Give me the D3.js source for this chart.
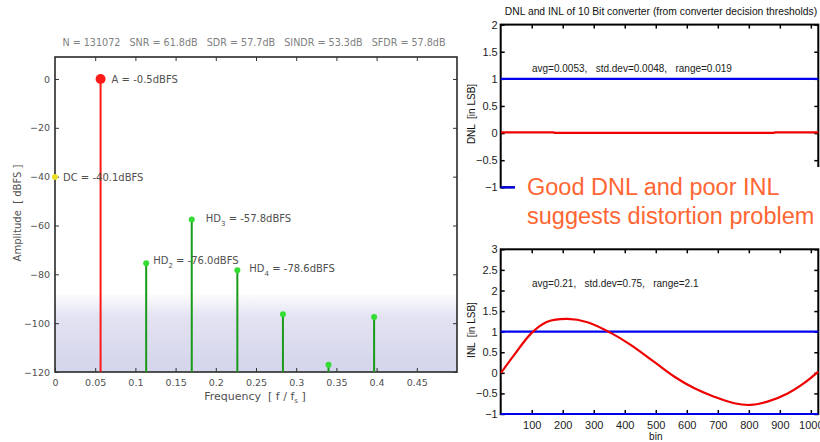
<!DOCTYPE html>
<html>
<head>
<meta charset="utf-8">
<script src="https://cdn.jsdelivr.net/npm/d3@7"></script>
<style>
  body { margin: 0; background: #fff; }
  svg { display: block; font-family: "Liberation Sans", Arial, sans-serif; }
</style>
</head>
<body>
<svg id="chart" width="820" height="442"></svg>
<script>
// ---------------- data ----------------
// Left: FFT spectrum
const specTitle = "N = 131072   SNR = 61.8dB   SDR = 57.7dB   SINDR = 53.3dB   SFDR = 57.8dB";
const harmFreq = [0.0567, 0.1134, 0.1701, 0.2268, 0.2835, 0.3402, 0.3969];
const harmAmp  = [0, -75.5, -57.5, -78.3, -96.3, -117, -97.5];
const harmName = ["A", "HD2", "HD3", "HD4", "HD5", "HD6", "HD7"];
const dcFreq = [0];
const dcAmp  = [-40.1];
const noiseTop = -88;
const specXTicks = [0, 0.05, 0.1, 0.15, 0.2, 0.25, 0.3, 0.35, 0.4, 0.45];
const specYTicks = [0, -20, -40, -60, -80, -100, -120];

// Right top: DNL
const dnlBins = [1, 170, 175, 880, 885, 1024];
const dnlVals = [0.012, 0.012, 0.003, 0.003, 0.012, 0.012];
const dnlYTicks = [-1, -0.5, 0, 0.5, 1, 1.5, 2];
// Right bottom: INL
const inlBins = [1, 43, 100, 150, 215, 280, 355, 419, 494, 559, 623, 688, 753, 806, 860, 925, 978, 1024];
const inlVals = [0, 0.43, 0.97, 1.24, 1.31, 1.23, 0.97, 0.68, 0.27, -0.09, -0.37, -0.58, -0.74, -0.78, -0.7, -0.5, -0.25, 0.03];
const inlYTicks = [-1, -0.5, 0, 0.5, 1, 1.5, 2, 2.5, 3];
const binTicks = [100, 200, 300, 400, 500, 600, 700, 800, 900, 1000];
const refLines = [1, -1];

const svg = d3.select("#chart");
const leftFont = "DejaVu Sans, Verdana, sans-serif";

// ---------------- left spectrum ----------------
const L = {x0: 55, x1: 457, y0: 57, y1: 372};
const xs = d3.scaleLinear().domain([0, 0.5]).range([L.x0, L.x1]);
const ys = d3.scaleLinear().domain([-120, 9]).range([L.y1, L.y0]);
const gray = "#505050";

// noise floor band
const defs = svg.append("defs");
const grad = defs.append("linearGradient").attr("id", "noiseGrad").attr("x1", 0).attr("y1", 0).attr("x2", 0).attr("y2", 1);
grad.append("stop").attr("offset", "0%").attr("stop-color", "#d6d6ec").attr("stop-opacity", 0.05);
grad.append("stop").attr("offset", "30%").attr("stop-color", "#d6d6ec").attr("stop-opacity", 0.7);
grad.append("stop").attr("offset", "100%").attr("stop-color", "#d2d2ea").attr("stop-opacity", 0.95);
svg.append("rect")
  .attr("x", L.x0).attr("y", ys(noiseTop))
  .attr("width", L.x1 - L.x0).attr("height", ys(-120) - ys(noiseTop))
  .attr("fill", "url(#noiseGrad)");

// frame
svg.append("rect").attr("x", L.x0).attr("y", L.y0).attr("width", L.x1 - L.x0).attr("height", L.y1 - L.y0)
  .attr("fill", "none").attr("stroke", "#2a2a2a").attr("stroke-width", 1.6);

// axes
const gxL = svg.append("g").attr("transform", `translate(0,${L.y1})`)
  .call(d3.axisBottom(xs).tickValues(specXTicks).tickSizeInner(-4).tickSizeOuter(0).tickPadding(7).tickFormat(d3.format("")));
const gxLt = svg.append("g").attr("transform", `translate(0,${L.y0})`)
  .call(d3.axisTop(xs).tickValues(specXTicks.slice(1)).tickSizeInner(-4).tickSizeOuter(0).tickFormat(""));
const gyL = svg.append("g").attr("transform", `translate(${L.x0},0)`)
  .call(d3.axisLeft(ys).tickValues(specYTicks).tickSizeInner(-4).tickSizeOuter(0).tickPadding(5));
const gyLr = svg.append("g").attr("transform", `translate(${L.x1},0)`)
  .call(d3.axisRight(ys).tickValues(specYTicks).tickSizeInner(-4).tickSizeOuter(0).tickFormat(""));
[gxL, gxLt, gyL, gyLr].forEach(g => {
  g.select(".domain").remove();
  g.selectAll(".tick line").attr("stroke", "#333");
  g.selectAll("text").attr("fill", gray).attr("font-size", 9.5).attr("font-family", leftFont);
});

// title & axis labels
svg.append("text").attr("x", 254).attr("y", 46).attr("text-anchor", "middle").attr("font-family", leftFont)
  .attr("font-size", 9.6).attr("fill", "#808080").attr("xml:space", "preserve").text(specTitle);
svg.append("text").attr("transform", `translate(21,213) rotate(-90)`).attr("font-family", leftFont)
  .attr("text-anchor", "middle").attr("font-size", 10).attr("fill", gray).attr("xml:space", "preserve")
  .text("Amplitude  [ dBFS ]");
const xl = svg.append("text").attr("x", 255).attr("y", 400).attr("text-anchor", "middle").attr("font-family", leftFont)
  .attr("font-size", 11).attr("fill", gray).attr("xml:space", "preserve");
xl.append("tspan").text("Frequency  [ f / f");
xl.append("tspan").attr("font-size", 7).attr("dy", 3).text("s");
xl.append("tspan").attr("dy", -3).text(" ]");

// stems
const harm = harmFreq.map((f, i) => ({f, a: harmAmp[i], n: harmName[i]}));
svg.append("g").selectAll("line").data(harm).join("line")
  .attr("x1", d => xs(d.f)).attr("x2", d => xs(d.f))
  .attr("y1", d => ys(d.a)).attr("y2", ys(-120))
  .attr("stroke", (d, i) => i === 0 ? "#ff1a1a" : "#1a9a1a").attr("stroke-width", 2);
svg.append("g").selectAll("circle").data(harm).join("circle")
  .attr("cx", d => xs(d.f)).attr("cy", d => ys(d.a))
  .attr("r", (d, i) => i === 0 ? 5 : 3)
  .attr("fill", (d, i) => i === 0 ? "#ff1a1a" : "#33dd33");
svg.append("g").selectAll("circle").data(dcFreq.map((f, i) => ({f, a: dcAmp[i]}))).join("circle")
  .attr("cx", d => xs(d.f)).attr("cy", d => ys(d.a)).attr("r", 3).attr("fill", "#e8e020");

// stem labels
function subLabel(x, y, main, sub, rest) {
  const t = svg.append("text").attr("x", x).attr("y", y).attr("font-size", 10).attr("font-family", leftFont)
    .attr("fill", gray).attr("xml:space", "preserve");
  t.append("tspan").text(main);
  if (sub) {
    t.append("tspan").attr("font-size", 7).attr("dy", 4).text(sub);
    t.append("tspan").attr("dy", -4).text(rest);
  }
  return t;
}
subLabel(xs(harmFreq[0]) + 11, ys(harmAmp[0]) + 4, `A = -0.5dBFS`);
subLabel(xs(dcFreq[0]) + 8, ys(dcAmp[0]) + 4, `DC = -40.1dBFS`);
subLabel(xs(harmFreq[2]) + 14, ys(harmAmp[2]) + 3, "HD", "3", " = -57.8dBFS");
subLabel(xs(harmFreq[1]) + 7, ys(harmAmp[1]) + 1, "HD", "2", " = -76.0dBFS");
subLabel(xs(harmFreq[3]) + 12, ys(harmAmp[3]) + 2, "HD", "4", " = -78.6dBFS");

// ---------------- right charts ----------------
const R = {x0: 500.7, x1: 818.3};
const xb = d3.scaleLinear().domain([0, 1024]).range([R.x0, R.x1]);
const yd = d3.scaleLinear().domain([-1, 2]).range([187.3, 24.6]);
const yi = d3.scaleLinear().domain([-1, 3]).range([414, 249.3]);

function frame(y, y0, y1, yTicks, showBottomLabels) {
  const gB = svg.append("g").attr("transform", `translate(0,${y1})`)
    .call(d3.axisBottom(xb).tickValues(binTicks).tickSizeInner(-4).tickSizeOuter(0).tickPadding(7).tickFormat(d3.format("d")));
  const gT = svg.append("g").attr("transform", `translate(0,${y0})`)
    .call(d3.axisTop(xb).tickValues(binTicks).tickSizeInner(-4).tickSizeOuter(0).tickFormat(""));
  const gL = svg.append("g").attr("transform", `translate(${R.x0},0)`)
    .call(d3.axisLeft(y).tickValues(yTicks).tickSizeInner(-4).tickSizeOuter(0).tickPadding(3).tickFormat(d3.format("")));
  const gR = svg.append("g").attr("transform", `translate(${R.x1},0)`)
    .call(d3.axisRight(y).tickValues(yTicks).tickSizeInner(-4).tickSizeOuter(0).tickFormat(""));
  [gB, gT, gL, gR].forEach(g => {
    g.select(".domain").remove();
    g.selectAll(".tick line").attr("stroke", "#000").attr("stroke-width", 1.5);
    g.selectAll("text").attr("fill", "#222").attr("font-size", 11).attr("font-family", "Liberation Sans, Arial, sans-serif");
  });
  if (!showBottomLabels) gB.selectAll("text").remove();
  svg.append("rect").attr("x", R.x0).attr("y", y0).attr("width", R.x1 - R.x0).attr("height", y1 - y0)
    .attr("fill", "none").attr("stroke", "#000").attr("stroke-width", 2);
}

// top (DNL)
frame(yd, yd(2), yd(-1), dnlYTicks, false);
svg.append("g").selectAll("line").data(refLines).join("line")
  .attr("x1", R.x0).attr("x2", R.x1).attr("y1", d => yd(d)).attr("y2", d => yd(d))
  .attr("stroke", "#0000ee").attr("stroke-width", 2.2);
svg.append("path").datum(dnlBins.map((b, i) => [b, dnlVals[i]]))
  .attr("d", d3.line().x(d => xb(d[0])).y(d => yd(d[1])))
  .attr("fill", "none").attr("stroke", "#ee0000").attr("stroke-width", 2.2);
svg.append("text").attr("x", 532).attr("y", 72).attr("font-size", 10).attr("fill", "#222").attr("xml:space", "preserve")
  .text("avg=0.0053,   std.dev=0.0048,   range=0.019");
svg.append("text").attr("x", 661).attr("y", 15).attr("text-anchor", "middle").attr("font-size", 10.3).attr("fill", "#111")
  .text("DNL and INL of 10 Bit converter (from converter decision thresholds)");
svg.append("text").attr("transform", `translate(475,114) rotate(-90)`).attr("text-anchor", "middle")
  .attr("font-size", 10).attr("fill", "#111").attr("xml:space", "preserve").text("DNL  [in LSB]");

// bottom (INL)
frame(yi, yi(3), yi(-1), inlYTicks, true);
svg.append("g").selectAll("line").data(refLines).join("line")
  .attr("x1", R.x0).attr("x2", R.x1).attr("y1", d => yi(d)).attr("y2", d => yi(d))
  .attr("stroke", "#0000ee").attr("stroke-width", 2.2);
svg.append("path").datum(inlBins.map((b, i) => [b, inlVals[i]]))
  .attr("d", d3.line().curve(d3.curveCatmullRom).x(d => xb(d[0])).y(d => yi(d[1])))
  .attr("fill", "none").attr("stroke", "#ee0000").attr("stroke-width", 2.2);
svg.append("text").attr("x", 532).attr("y", 287).attr("font-size", 10).attr("fill", "#222").attr("xml:space", "preserve")
  .text("avg=0.21,   std.dev=0.75,   range=2.1");
svg.append("text").attr("x", xb(500)).attr("y", 440).attr("text-anchor", "middle").attr("font-size", 10).attr("fill", "#111").text("bin");
svg.append("text").attr("transform", `translate(475,330) rotate(-90)`).attr("text-anchor", "middle")
  .attr("font-size", 10).attr("fill", "#111").attr("xml:space", "preserve").text("INL  [in LSB]");

// white box with annotation covering the bottom of the DNL plot
svg.append("rect").attr("x", 515).attr("y", 167).attr("width", 310).attr("height", 75).attr("fill", "#fff");
const ann = svg.append("text").attr("x", 527).attr("font-size", 23.5).attr("fill", "#ff6633");
ann.append("tspan").attr("x", 527).attr("y", 195).text("Good DNL and poor INL");
ann.append("tspan").attr("x", 527).attr("y", 224).text("suggests distortion problem");
</script>
</body>
</html>
